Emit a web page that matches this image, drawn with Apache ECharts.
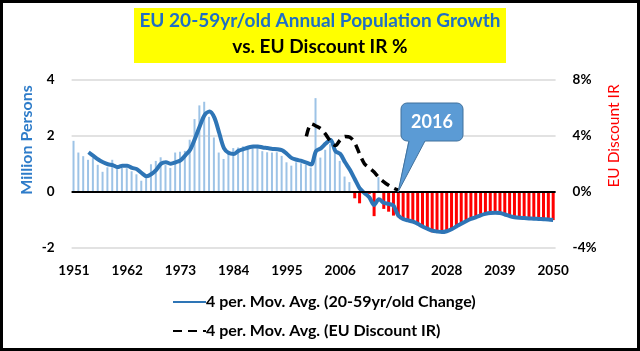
<!DOCTYPE html>
<html><head><meta charset="utf-8">
<script src="https://cdn.jsdelivr.net/npm/echarts@6/dist/echarts.min.js"></script>
<style>html,body{margin:0;padding:0;background:#fff}#c{width:640px;height:351px}</style>
</head><body><div id="c"></div>
<script>
var years = [];
for (var y = 1951; y <= 2050; y++) years.push(String(y));

// annual change of EU 20-59 yr/old population (million persons), 1951-2050
var popChange = [
 1.82,1.40,1.27,1.14,1.20,0.96,0.71,0.87,1.14,0.84,
 0.85,0.84,0.73,0.62,0.39,0.58,0.98,1.10,1.23,0.95,
 0.85,1.40,1.43,1.46,1.86,2.60,3.09,3.22,2.68,1.94,
 1.40,1.17,1.38,1.56,1.58,1.62,1.56,1.58,1.64,1.45,
 1.41,1.40,1.41,1.28,1.05,0.93,1.05,1.02,0.96,0.86,
 3.35,1.22,1.50,1.70,1.41,1.10,0.54,0.34,-0.24,-0.42,
 -0.05,-0.08,-0.88,0.52,-0.62,-0.72,-0.86,-0.92,-1.00,-1.06,
 -1.12,-1.20,-1.28,-1.35,-1.46,-1.45,-1.44,-1.40,-1.32,-1.22,
 -1.12,-1.04,-0.96,-0.90,-0.83,-0.79,-0.76,-0.75,-0.76,-0.82,
 -0.88,-0.92,-0.94,-0.95,-0.96,-0.97,-0.98,-0.99,-1.00,-1.02
];

// 4 per. moving average of the change
var popMA = [
 null,null,null,1.41,1.28,1.15,1.05,0.98,0.95,0.88,
 0.93,0.93,0.85,0.80,0.66,0.55,0.63,0.78,1.00,1.05,
 1.00,1.05,1.12,1.30,1.50,1.90,2.35,2.75,2.87,2.65,
 2.10,1.55,1.38,1.35,1.46,1.52,1.58,1.62,1.62,1.58,
 1.56,1.53,1.52,1.48,1.35,1.20,1.14,1.10,1.04,0.97,
 1.45,1.55,1.72,1.86,1.45,1.35,1.05,0.78,0.45,0.12,
 -0.05,-0.20,-0.48,-0.27,-0.40,-0.44,-0.50,-0.85,-0.98,-1.03,
 -1.08,-1.15,-1.25,-1.33,-1.40,-1.43,-1.45,-1.42,-1.35,-1.25,
 -1.15,-1.06,-0.98,-0.92,-0.85,-0.80,-0.77,-0.76,-0.77,-0.82,
 -0.88,-0.92,-0.94,-0.95,-0.96,-0.97,-0.98,-0.99,-1.00,-1.02
];

// 4 per. moving average of EU discount interest rate (%), 1999-2018
var irYears = ['1999','2000','2001','2002','2003','2004','2005','2006','2007','2008',
               '2009','2010','2011','2012','2013','2014','2015','2016','2017','2018'];
var irMA = [3.95,4.85,4.70,4.50,4.10,3.60,3.30,3.70,3.95,3.90,
            3.50,2.70,2.00,1.70,1.40,1.00,0.70,0.45,0.25,0.10];

var leftTicks = {min: -2, max: 4, interval: 2};
var rightTicks = {min: -4, max: 8, interval: 4};

var irSeries = years.map(function (yr) {
  var i = irYears.indexOf(yr);
  return i >= 0 ? irMA[i] : null;
});
var posBars = popChange.map(function (v) { return v >= 0 ? v : null; });
var negBars = popChange.map(function (v) { return v < 0 ? v : null; });

var FONT = 'Lato';
var chart = echarts.init(document.getElementById('c'));
chart.setOption({
  animation: false,
  title: [
    {text: 'EU 20-59yr/old Annual Population Growth', left: 'center', top: 6,
     textStyle: {color: '#1f6fc5', fontFamily: FONT, fontWeight: 'bold', fontSize: 19}},
    {text: 'vs. EU Discount IR %', left: 'center', top: 32,
     textStyle: {color: '#000', fontFamily: FONT, fontWeight: 'bold', fontSize: 19}}
  ],
  graphic: [
    {type: 'rect', z: -1, shape: {x: 134, y: 8, width: 372, height: 55}, style: {fill: '#ffff00'}},
    {type: 'rect', z: 100, shape: {x: 1.5, y: 1.5, width: 637, height: 348}, style: {fill: null, stroke: '#000', lineWidth: 3}},
    {type: 'text', x: 27, y: 140, rotation: Math.PI / 2,
     style: {text: 'Million Persons', fill: '#2e7cc9', font: 'bold 16px ' + FONT, textAlign: 'center', textVerticalAlign: 'middle'}},
    {type: 'text', x: 614, y: 136, rotation: Math.PI / 2,
     style: {text: 'EU Discount IR', fill: '#ff0000', font: '15.5px ' + FONT, textAlign: 'center', textVerticalAlign: 'middle'}},
    {type: 'rect', z: 100, shape: {x: 401, y: 103, width: 62, height: 38, r: 6},
     style: {fill: '#5b9bd5', stroke: '#41719c', lineWidth: 1}},
    {type: 'polygon', z: 101, shape: {points: [[408.5, 140], [425.5, 140], [398, 192]]},
     style: {fill: '#5b9bd5'}},
    {type: 'polyline', z: 101, shape: {points: [[425, 141], [398, 192], [409, 141]]},
     style: {fill: null, stroke: '#41719c', lineWidth: 1}},
    {type: 'text', z: 102, x: 432, y: 122,
     style: {text: '2016', fill: '#fff', font: 'bold 18px ' + FONT, textAlign: 'center', textVerticalAlign: 'middle'}}
  ],
  legend: {
    orient: 'vertical', left: 167, top: 289, itemWidth: 33, itemHeight: 14, itemGap: 13,
    itemStyle: {opacity: 0},
    textStyle: {color: '#000', fontFamily: FONT, fontWeight: 'bold', fontSize: 16, padding: [0,0,0,-5]},
    data: ['4 per. Mov. Avg. (20-59yr/old Change)', '4 per. Mov. Avg. (EU Discount IR)']
  },
  grid: {left: 71.6, right: 84.4, top: 80, height: 167.4},
  xAxis: {
    type: 'category', data: years, boundaryGap: true,
    axisLine: {show: false}, axisTick: {show: false},
    axisLabel: {interval: 10, margin: 16, color: '#000', fontFamily: FONT, fontWeight: 'bold', fontSize: 13.5}
  },
  yAxis: [
    {type: 'value', min: leftTicks.min, max: leftTicks.max, interval: leftTicks.interval,
     axisLine: {show: false}, axisTick: {show: false},
     axisLabel: {margin: 17, color: '#000', fontFamily: FONT, fontWeight: 'bold', fontSize: 13.5},
     splitLine: {lineStyle: {color: '#d9d9d9', width: 1.5}}},
    {type: 'value', min: rightTicks.min, max: rightTicks.max, interval: rightTicks.interval,
     axisLine: {show: false}, axisTick: {show: false},
     axisLabel: {margin: 17, formatter: '{value}%', color: '#000', fontFamily: FONT, fontWeight: 'bold', fontSize: 13.5},
     splitLine: {show: false}}
  ],
  series: [
    {name: 'Growth', type: 'bar', yAxisIndex: 0, barWidth: 2, barGap: '-100%', data: posBars,
     itemStyle: {color: '#9dc3e6'},
     markLine: {silent: true, symbol: 'none', label: {show: false},
       lineStyle: {color: '#000', width: 2, type: 'solid'}, data: [{yAxis: 0}]}},
    {name: 'Decline', type: 'bar', yAxisIndex: 0, barWidth: 3, barGap: '-100%', data: negBars,
     itemStyle: {color: '#ff0000'}},
    {name: '4 per. Mov. Avg. (20-59yr/old Change)', type: 'line', yAxisIndex: 0, data: popMA,
     symbol: 'none', smooth: 0.3, z: 4, lineStyle: {color: '#2e75b6', width: 4}, itemStyle: {color: '#2e75b6'}},
    {name: '4 per. Mov. Avg. (EU Discount IR)', type: 'line', yAxisIndex: 1, data: irSeries,
     symbol: 'none', smooth: 0.3, z: 5, lineStyle: {color: '#000', width: 3.5, type: [9, 6]}, itemStyle: {color: '#000'}}
  ]
});
</script></body></html>
